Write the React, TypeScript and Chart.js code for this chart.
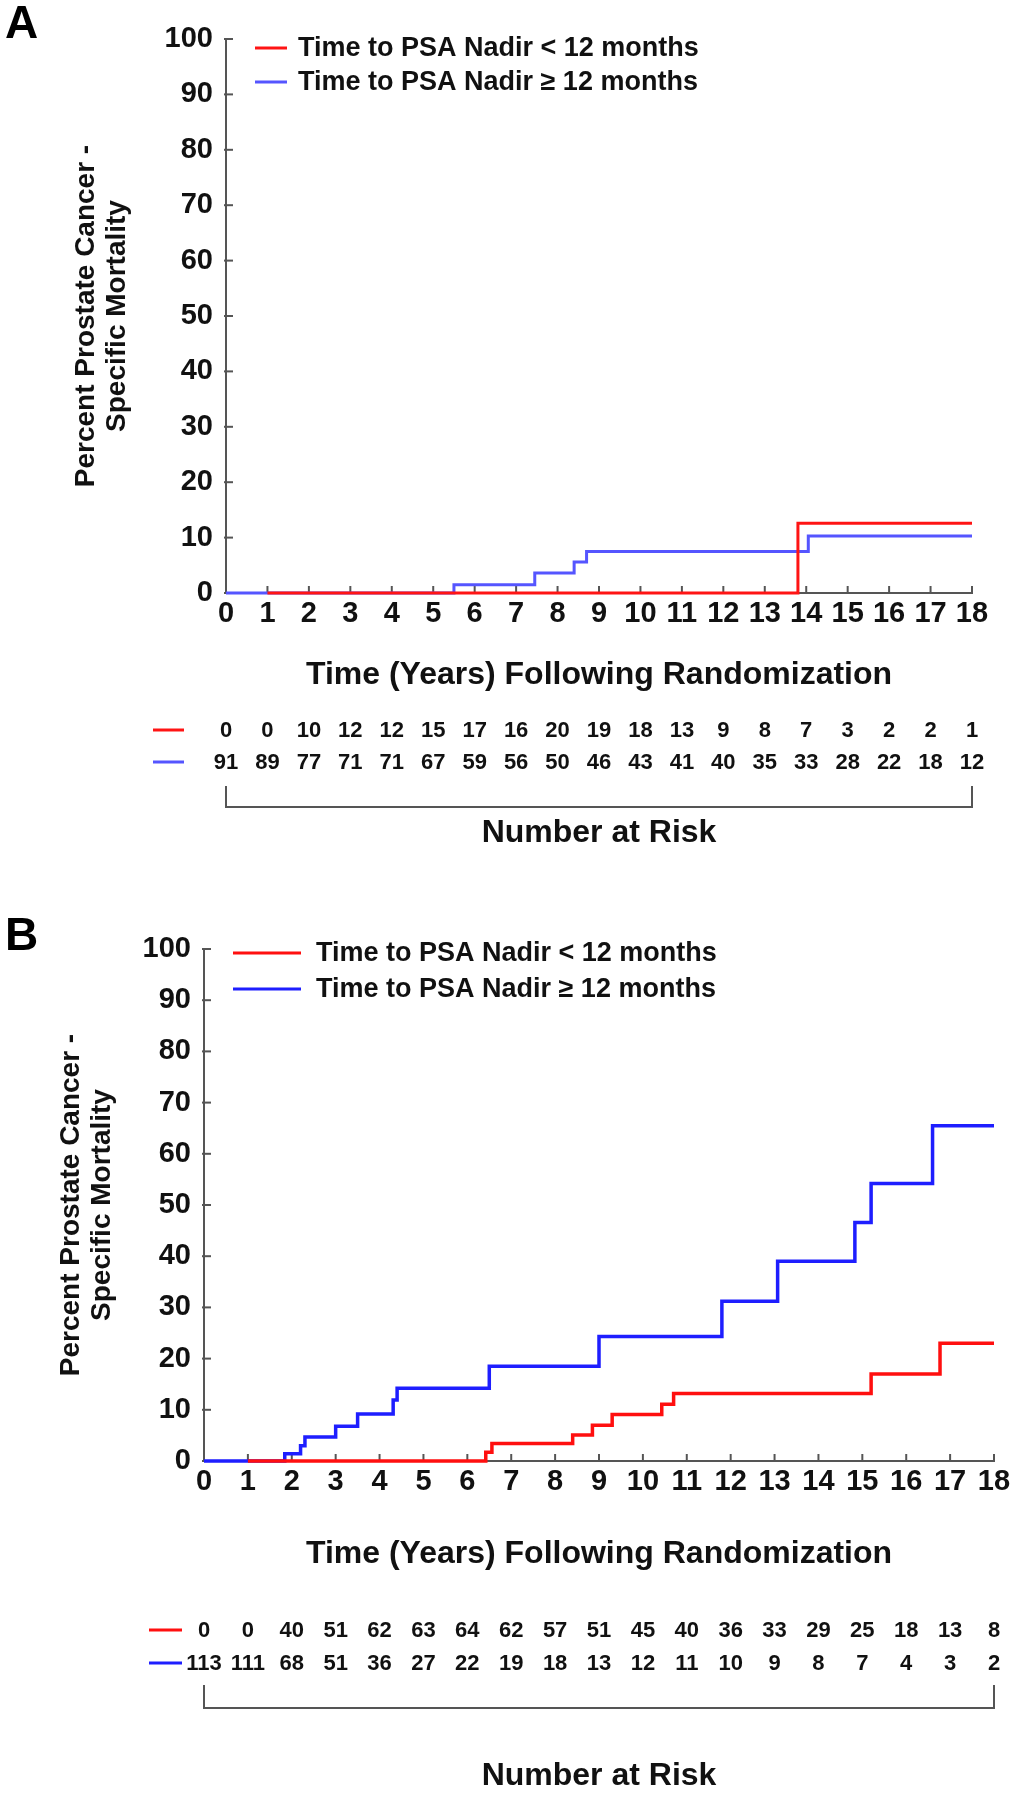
import React, { useEffect, useRef } from 'react';
import { Chart, registerables } from 'chart.js';

Chart.register(...registerables);

const FONT = '"Liberation Sans", Arial, Helvetica, sans-serif';

// ---------- data ----------
const years = [0, 1, 2, 3, 4, 5, 6, 7, 8, 9, 10, 11, 12, 13, 14, 15, 16, 17, 18];
const seriesLabels = ['Time to PSA Nadir < 12 months', 'Time to PSA Nadir \u2265 12 months'];
const yTitleLines = ['Percent Prostate Cancer -', 'Specific Mortality'];
const xTitle = 'Time (Years) Following Randomization';
const riskTitle = 'Number at Risk';

// Panel A (Kaplan-Meier step points: time, cumulative %)
const aRedX = [1, 13.8, 18];
const aRedY = [0, 12.6, 12.6];
const aBlueX = [0, 5.5, 7.45, 8.4, 8.7, 14.05, 18];
const aBlueY = [0, 1.5, 3.6, 5.6, 7.5, 10.3, 10.3];
const aRiskRed = [0, 0, 10, 12, 12, 15, 17, 16, 20, 19, 18, 13, 9, 8, 7, 3, 2, 2, 1];
const aRiskBlue = [91, 89, 77, 71, 71, 67, 59, 56, 50, 46, 43, 41, 40, 35, 33, 28, 22, 18, 12];

// Panel B
const bRedX = [1, 6.42, 6.56, 8.4, 8.85, 9.3, 10.43, 10.7, 15.2, 16.77, 18];
const bRedY = [0, 1.7, 3.4, 5.1, 7.0, 9.1, 11.1, 13.2, 17.0, 23.0, 23.0];
const bBlueX = [0, 1.84, 2.2, 2.3, 3.0, 3.5, 4.31, 4.4, 6.5, 9.0, 11.8, 13.07, 14.83, 15.2, 16.6, 18];
const bBlueY = [0, 1.4, 3.0, 4.7, 6.8, 9.2, 11.9, 14.2, 18.5, 24.3, 31.2, 39.0, 46.6, 54.2, 65.5, 65.5];
const bRiskRed = [0, 0, 40, 51, 62, 63, 64, 62, 57, 51, 45, 40, 36, 33, 29, 25, 18, 13, 8];
const bRiskBlue = [113, 111, 68, 51, 36, 27, 22, 19, 18, 13, 12, 11, 10, 9, 8, 7, 4, 3, 2];

// ---------- layout ----------
type Geo = {
  letter: string;
  letterX: number;
  letterY: number;
  left: number;
  right: number;
  top: number;
  bottom: number;
  legendX1: number;
  legendX2: number;
  legendTextX: number;
  legendY: number[];
  xTitleY: number;
  yTitleX: number;
  riskY: number[];
  dashX1: number;
  dashX2: number;
  bracketTop: number;
  bracketBottom: number;
  riskTitleY: number;
  lineWidth: number;
  colors: string[];
};

const W = 1018;
const H = 1800;

const geoA: Geo = {
  letter: 'A', letterX: 5, letterY: 2,
  left: 226, right: 972, top: 39, bottom: 593,
  legendX1: 255, legendX2: 287, legendTextX: 298, legendY: [48, 82],
  xTitleY: 675, yTitleX: 86,
  riskY: [730, 762], dashX1: 153, dashX2: 184,
  bracketTop: 786, bracketBottom: 807, riskTitleY: 833,
  lineWidth: 3,
  colors: ['rgb(255,20,20)', 'rgb(85,85,255)'],
};

const geoB: Geo = {
  letter: 'B', letterX: 5, letterY: 914,
  left: 204, right: 994, top: 949, bottom: 1461,
  legendX1: 233, legendX2: 301, legendTextX: 316, legendY: [953, 989],
  xTitleY: 1554, yTitleX: 71,
  riskY: [1630, 1663], dashX1: 149, dashX2: 182,
  bracketTop: 1685, bracketBottom: 1708, riskTitleY: 1776,
  lineWidth: 3.5,
  colors: ['rgb(255,15,15)', 'rgb(30,30,255)'],
};

const AXIS_COLOR = '#555';
const TEXT_COLOR = '#111';

function pts(xs: number[], ys: number[]) {
  return xs.map((x, i) => ({ x, y: ys[i] }));
}

function makeConfig(g: Geo, red: { x: number; y: number }[], blue: { x: number; y: number }[], riskRed: number[], riskBlue: number[]): any {
  const decor = {
    id: 'decor' + g.letter,
    beforeDatasetsDraw(chart: any) {
      const ctx = chart.ctx;
      const xs = chart.scales.x;
      const ys = chart.scales.y;
      const { left, bottom } = chart.chartArea;
      ctx.save();
      ctx.strokeStyle = AXIS_COLOR;
      ctx.lineWidth = 2;
      xs.ticks.forEach((t: any) => {
        const px = xs.getPixelForValue(t.value);
        ctx.beginPath();
        ctx.moveTo(px, bottom);
        ctx.lineTo(px, bottom - 7);
        ctx.stroke();
      });
      ys.ticks.forEach((t: any) => {
        const py = ys.getPixelForValue(t.value);
        ctx.beginPath();
        ctx.moveTo(left - 2, py);
        ctx.lineTo(left + 7, py);
        ctx.stroke();
      });
      ctx.restore();
    },
    afterDraw(chart: any) {
      const ctx = chart.ctx;
      const xs = chart.scales.x;
      const { left, right, top, bottom } = chart.chartArea;
      ctx.save();
      // panel letter
      ctx.fillStyle = '#000';
      ctx.font = `bold 46px ${FONT}`;
      ctx.textAlign = 'left';
      ctx.textBaseline = 'top';
      ctx.fillText(g.letter, g.letterX, g.letterY);

      // legend
      chart.data.datasets.forEach((ds: any, i: number) => {
        const y = g.legendY[i];
        ctx.strokeStyle = ds.borderColor;
        ctx.lineWidth = 3;
        ctx.beginPath();
        ctx.moveTo(g.legendX1, y);
        ctx.lineTo(g.legendX2, y);
        ctx.stroke();
        ctx.fillStyle = TEXT_COLOR;
        ctx.font = `bold 27px ${FONT}`;
        ctx.textAlign = 'left';
        ctx.textBaseline = 'middle';
        ctx.fillText(ds.label, g.legendTextX, y + 1);
      });

      // x title
      ctx.fillStyle = TEXT_COLOR;
      ctx.font = `bold 32px ${FONT}`;
      ctx.textAlign = 'center';
      ctx.textBaseline = 'middle';
      ctx.fillText(xTitle, (left + right) / 2, g.xTitleY);

      // y title
      ctx.save();
      ctx.translate(g.yTitleX, (top + bottom) / 2);
      ctx.rotate(-Math.PI / 2);
      ctx.font = `bold 28px ${FONT}`;
      ctx.textAlign = 'center';
      ctx.textBaseline = 'middle';
      ctx.fillText(yTitleLines[0], 0, 0);
      ctx.fillText(yTitleLines[1], 0, 31);
      ctx.restore();

      // number at risk
      const rows = [riskRed, riskBlue];
      rows.forEach((row, r) => {
        const y = g.riskY[r];
        ctx.strokeStyle = chart.data.datasets[r].borderColor;
        ctx.lineWidth = 3;
        ctx.beginPath();
        ctx.moveTo(g.dashX1, y);
        ctx.lineTo(g.dashX2, y);
        ctx.stroke();
        ctx.fillStyle = TEXT_COLOR;
        ctx.font = `bold 22px ${FONT}`;
        ctx.textAlign = 'center';
        ctx.textBaseline = 'middle';
        row.forEach((v, i) => {
          ctx.fillText(String(v), xs.getPixelForValue(years[i]), y + 1);
        });
      });

      // bracket
      const bx0 = xs.getPixelForValue(years[0]);
      const bx1 = xs.getPixelForValue(years[years.length - 1]);
      ctx.strokeStyle = AXIS_COLOR;
      ctx.lineWidth = 2;
      ctx.beginPath();
      ctx.moveTo(bx0, g.bracketTop);
      ctx.lineTo(bx0, g.bracketBottom);
      ctx.lineTo(bx1, g.bracketBottom);
      ctx.lineTo(bx1, g.bracketTop);
      ctx.stroke();

      ctx.fillStyle = TEXT_COLOR;
      ctx.font = `bold 32px ${FONT}`;
      ctx.textAlign = 'center';
      ctx.textBaseline = 'middle';
      ctx.fillText(riskTitle, (bx0 + bx1) / 2, g.riskTitleY);
      ctx.restore();
    },
  };

  const xAxisH = 45;
  return {
    type: 'line',
    data: {
      datasets: [
        {
          label: seriesLabels[0],
          data: red,
          borderColor: g.colors[0],
          backgroundColor: g.colors[0],
          borderWidth: g.lineWidth,
          stepped: 'before',
          pointRadius: 0,
          fill: false,
          clip: false,
        },
        {
          label: seriesLabels[1],
          data: blue,
          borderColor: g.colors[1],
          backgroundColor: g.colors[1],
          borderWidth: g.lineWidth,
          stepped: 'before',
          pointRadius: 0,
          fill: false,
          clip: false,
        },
      ],
    },
    options: {
      responsive: false,
      animation: false,
      devicePixelRatio: 1,
      layout: {
        padding: {
          left: 0,
          top: g.top,
          right: W - g.right,
          bottom: H - g.bottom - xAxisH,
        },
      },
      plugins: {
        legend: { display: false },
        tooltip: { enabled: false },
      },
      scales: {
        x: {
          type: 'linear',
          min: 0,
          max: 18,
          grid: { display: false, drawTicks: false },
          border: { display: true, color: AXIS_COLOR, width: 2 },
          ticks: {
            stepSize: 1,
            autoSkip: false,
            maxRotation: 0,
            padding: 4,
            color: TEXT_COLOR,
            font: { family: FONT, size: 29, weight: 'bold' },
          },
          afterFit: (s: any) => {
            s.height = xAxisH;
          },
        },
        y: {
          type: 'linear',
          min: 0,
          max: 100,
          grid: { display: false, drawTicks: false },
          border: { display: true, color: AXIS_COLOR, width: 2 },
          ticks: {
            stepSize: 10,
            padding: 13,
            color: TEXT_COLOR,
            font: { family: FONT, size: 29, weight: 'bold' },
          },
          afterFit: (s: any) => {
            s.width = g.left;
          },
        },
      },
    },
    plugins: [decor],
  };
}

function KMPanel(props: { g: Geo; red: { x: number; y: number }[]; blue: { x: number; y: number }[]; riskRed: number[]; riskBlue: number[] }) {
  const ref = useRef<HTMLCanvasElement>(null);
  useEffect(() => {
    if (!ref.current) return;
    const chart = new Chart(ref.current, makeConfig(props.g, props.red, props.blue, props.riskRed, props.riskBlue));
    return () => chart.destroy();
  }, []);
  return (
    <canvas
      ref={ref}
      width={W}
      height={H}
      style={{ position: 'absolute', left: 0, top: 0, width: W, height: H }}
    />
  );
}

export default function App() {
  return (
    <div style={{ position: 'absolute', left: 0, top: 0, width: W, height: H, background: '#fff', overflow: 'hidden' }}>
      <KMPanel g={geoA} red={pts(aRedX, aRedY)} blue={pts(aBlueX, aBlueY)} riskRed={aRiskRed} riskBlue={aRiskBlue} />
      <KMPanel g={geoB} red={pts(bRedX, bRedY)} blue={pts(bBlueX, bBlueY)} riskRed={bRiskRed} riskBlue={bRiskBlue} />
    </div>
  );
}
